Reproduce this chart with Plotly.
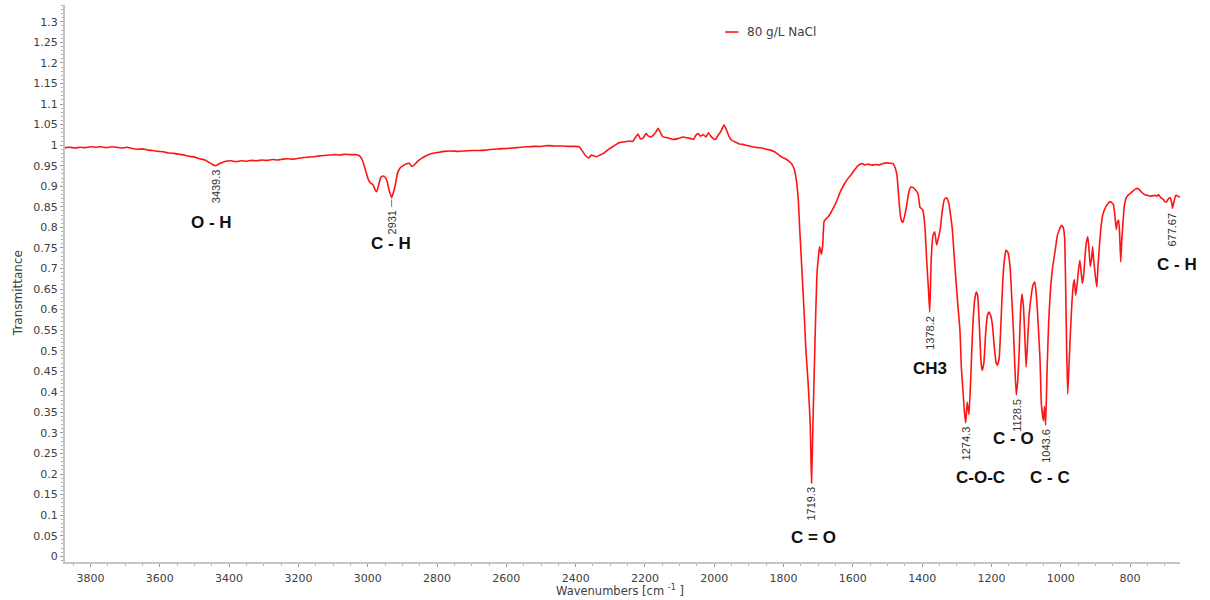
import plotly.graph_objects as go

# FTIR spectrum, 80 g/L NaCl sample
wavenumber = [
    3874, 3860, 3845, 3830, 3815, 3800, 3785, 3770, 3755, 3740, 3725, 3710, 3695, 3680,
    3665, 3650, 3635, 3620, 3605, 3590, 3575, 3560, 3545, 3530, 3515, 3500, 3485, 3470,
    3458, 3448, 3439.3, 3430, 3420, 3410, 3395, 3380, 3365, 3350, 3335, 3320, 3305, 3290,
    3275, 3260, 3245, 3230, 3215, 3200, 3185, 3170, 3155, 3140, 3125, 3110, 3095, 3080,
    3065, 3050, 3035, 3025, 3018, 3012, 3005, 2999, 2992, 2985, 2978, 2974, 2968, 2962,
    2956, 2950, 2944, 2938, 2931, 2926, 2920, 2914, 2906, 2897, 2888, 2880, 2873, 2866,
    2857, 2845, 2830, 2815, 2800, 2780, 2760, 2740, 2720, 2700, 2680, 2660, 2640, 2620,
    2600, 2580, 2560, 2540, 2520, 2500, 2480, 2460, 2440, 2420, 2400, 2390, 2382, 2372,
    2362, 2355, 2348, 2340, 2330, 2320, 2305, 2290, 2275, 2260, 2245, 2235, 2228, 2220,
    2213, 2205, 2197, 2190, 2182, 2170, 2162, 2155, 2148, 2135, 2120, 2105, 2090, 2080,
    2068, 2060, 2052, 2046, 2040, 2032, 2024, 2017, 2010, 2003, 1997, 1988, 1980, 1972,
    1965, 1958, 1950, 1940, 1928, 1918, 1905, 1890, 1876, 1862, 1850, 1838, 1826, 1815,
    1805, 1795, 1786, 1777, 1770, 1764, 1758, 1753, 1747, 1740, 1735, 1729, 1723, 1719.3,
    1715, 1710, 1704, 1698, 1696, 1691, 1687, 1683, 1676, 1671, 1664, 1657, 1650, 1645,
    1637, 1625, 1615, 1605, 1595, 1585, 1575, 1565, 1555, 1545, 1535, 1525, 1515, 1502,
    1492, 1484, 1478, 1473, 1469, 1466, 1461, 1456, 1450, 1444, 1438, 1432, 1425, 1418,
    1412, 1406, 1402, 1398, 1392, 1387, 1382, 1378.2, 1374, 1369, 1364, 1358, 1353, 1348,
    1342, 1336, 1330, 1324, 1318, 1313, 1308, 1302, 1296, 1291, 1287, 1282, 1278, 1274.3,
    1270, 1265, 1260, 1255, 1249, 1244, 1240, 1235, 1230, 1227, 1222, 1217, 1212, 1207,
    1202, 1197, 1192, 1187, 1183, 1178, 1173, 1168, 1163, 1158, 1152, 1146, 1141, 1137,
    1133, 1128.5, 1124, 1120, 1116, 1112, 1108, 1104, 1100, 1096, 1092, 1086, 1080, 1075,
    1070, 1065, 1060, 1056, 1050, 1047, 1043.6, 1040, 1035, 1030, 1024, 1016, 1010, 1004,
    998, 993, 989, 986, 983, 980, 977, 973, 968, 964, 961, 957, 953, 949,
    945, 941, 938, 934, 930, 926, 922, 918, 915, 911, 908, 905, 900, 896,
    893, 889, 884, 879, 873, 867, 862, 858, 853, 848, 844, 840, 837, 833,
    830, 827, 824, 821, 817, 812, 806, 800, 792, 785, 779, 773, 767, 762,
    756, 750, 742, 735, 728, 722, 718, 713, 708, 704, 699, 694, 689, 684,
    680, 677.67, 674, 670, 667, 662, 656,
]
transmittance = [
    0.994, 0.995, 0.993, 0.995, 0.994, 0.996, 0.995, 0.996, 0.994, 0.996, 0.995, 0.993, 0.995, 0.992,
    0.990, 0.991, 0.988, 0.987, 0.985, 0.984, 0.981, 0.980, 0.978, 0.976, 0.973, 0.971, 0.967, 0.964,
    0.958, 0.953, 0.950, 0.954, 0.958, 0.961, 0.962, 0.960, 0.962, 0.961, 0.963, 0.962, 0.964, 0.963,
    0.965, 0.964, 0.966, 0.967, 0.966, 0.968, 0.970, 0.971, 0.972, 0.974, 0.975, 0.976, 0.977, 0.976,
    0.978, 0.977, 0.977, 0.975, 0.968, 0.955, 0.935, 0.918, 0.908, 0.904, 0.890, 0.887, 0.905, 0.922,
    0.925, 0.922, 0.912, 0.890, 0.872, 0.885, 0.905, 0.932, 0.945, 0.951, 0.955, 0.956, 0.948, 0.952,
    0.960, 0.968, 0.975, 0.980, 0.982, 0.985, 0.986, 0.985, 0.986, 0.987, 0.987, 0.988, 0.990, 0.991,
    0.992, 0.993, 0.995, 0.996, 0.997, 0.997, 0.999, 0.998, 0.998, 0.997, 0.997, 0.996, 0.988, 0.975,
    0.969, 0.976, 0.974, 0.972, 0.976, 0.980, 0.990, 0.998, 1.006, 1.008, 1.010, 1.009, 1.018, 1.027,
    1.015, 1.018, 1.028, 1.022, 1.020, 1.030, 1.041, 1.030, 1.020, 1.018, 1.014, 1.016, 1.020, 1.018,
    1.016, 1.014, 1.025, 1.028, 1.022, 1.026, 1.020, 1.030, 1.022, 1.016, 1.014, 1.025, 1.035, 1.049,
    1.038, 1.022, 1.012, 1.008, 1.003, 1.002, 0.999, 0.996, 0.994, 0.993, 0.990, 0.988, 0.984, 0.977,
    0.971, 0.967, 0.962, 0.955, 0.944, 0.920, 0.874, 0.790, 0.696, 0.580, 0.494, 0.420, 0.320, 0.178,
    0.330, 0.500, 0.680, 0.740, 0.753, 0.735, 0.757, 0.815, 0.822, 0.826, 0.835, 0.846, 0.858, 0.868,
    0.885, 0.905, 0.918, 0.928, 0.940, 0.950, 0.955, 0.952, 0.954, 0.951, 0.953, 0.952, 0.955, 0.957,
    0.956, 0.955, 0.945, 0.928, 0.890, 0.855, 0.820, 0.812, 0.830, 0.858, 0.888, 0.898, 0.896, 0.890,
    0.882, 0.848, 0.846, 0.842, 0.800, 0.720, 0.650, 0.594, 0.720, 0.780, 0.789, 0.757, 0.775, 0.795,
    0.840, 0.868, 0.872, 0.862, 0.830, 0.795, 0.735, 0.665, 0.600, 0.550, 0.460, 0.400, 0.350, 0.325,
    0.375, 0.345, 0.430, 0.540, 0.620, 0.643, 0.635, 0.560, 0.470, 0.452, 0.470, 0.540, 0.585, 0.594,
    0.585, 0.560, 0.510, 0.472, 0.465, 0.480, 0.560, 0.660, 0.720, 0.745, 0.738, 0.700, 0.620, 0.555,
    0.470, 0.392, 0.430, 0.500, 0.600, 0.638, 0.610, 0.540, 0.460, 0.520, 0.580, 0.630, 0.660, 0.667,
    0.630, 0.560, 0.480, 0.370, 0.330, 0.365, 0.319, 0.440, 0.570, 0.645, 0.700, 0.745, 0.780, 0.795,
    0.805, 0.800, 0.775, 0.660, 0.500, 0.395, 0.450, 0.530, 0.615, 0.660, 0.673, 0.635, 0.660, 0.696,
    0.720, 0.690, 0.664, 0.684, 0.730, 0.765, 0.777, 0.740, 0.705, 0.725, 0.753, 0.720, 0.680, 0.655,
    0.700, 0.750, 0.800, 0.830, 0.845, 0.854, 0.860, 0.862, 0.860, 0.855, 0.830, 0.795, 0.812, 0.818,
    0.780, 0.716, 0.770, 0.805, 0.850, 0.870, 0.878, 0.882, 0.888, 0.893, 0.895, 0.892, 0.886, 0.882,
    0.879, 0.878, 0.876, 0.877, 0.878, 0.876, 0.880, 0.874, 0.870, 0.868, 0.862, 0.863, 0.870, 0.872,
    0.860, 0.847, 0.860, 0.874, 0.878, 0.876, 0.873,
]

# Labelled absorption bands
peak_wn = [3439.3, 2931, 1719.3, 1378.2, 1274.3, 1128.5, 1043.6, 677.67]
peak_val = [0.950, 0.872, 0.178, 0.594, 0.325, 0.392, 0.319, 0.847]
peak_text = ["3439.3", "2931", "1719.3", "1378.2", "1274.3", "1128.5", "1043.6", "677.67"]
peak_gap = [0, 0.022, 0, 0, 0, 0, 0, 0]

# Functional-group assignments and where each name sits
group_text = ["O - H", "C - H", "C = O", "CH3", "C-O-C", "C - O", "C - C", "C - H"]
group_wn = [3451, 2932, 1715, 1377, 1233, 1137, 1031, 664]
group_val = [0.813, 0.762, 0.046, 0.457, 0.192, 0.287, 0.192, 0.710]

series_name = "80 g/L NaCl"
line_color = "rgb(255,20,20)"
axis_grey = "#c4c4c4"
text_grey = "#404040"

fig = go.Figure()
fig.add_trace(go.Scatter(
    x=wavenumber, y=transmittance, mode="lines", name=series_name,
    line=dict(color=line_color, width=1.6, shape="spline", smoothing=0.4),
    showlegend=False,
))

annotations = []
shapes = []
for wn, val, txt, gap in zip(peak_wn, peak_val, peak_text, peak_gap):
    if gap > 0:
        shapes.append(dict(type="line", xref="x", yref="y", x0=wn, x1=wn,
                           y0=val - 0.004, y1=val - gap,
                           line=dict(color="#777777", width=1)))
    annotations.append(dict(
        x=wn, y=val - gap, xref="x", yref="y", text=txt, showarrow=False,
        textangle=-90, xanchor="center", yanchor="top", yshift=-2,
        font=dict(family="Liberation Sans, Arial, sans-serif", size=11, color="#333333"),
    ))
for txt, wn, val in zip(group_text, group_wn, group_val):
    annotations.append(dict(
        x=wn, y=val, xref="x", yref="y", text="<b>" + txt + "</b>", showarrow=False,
        xanchor="center", yanchor="middle",
        font=dict(family="Liberation Sans, Arial, sans-serif", size=17, color="#111111"),
    ))

# Axis titles
annotations.append(dict(
    x=0.4978, y=-0.052, xref="paper", yref="paper", showarrow=False,
    text="Wavenumbers [cm <sup>-1</sup> ]", xanchor="center", yanchor="middle",
    font=dict(family="DejaVu Sans, Verdana, sans-serif", size=11.5, color=text_grey),
))
annotations.append(dict(
    x=-0.042, y=0.483, xref="paper", yref="paper", showarrow=False,
    text="Transmittance", textangle=-90, xanchor="center", yanchor="middle",
    font=dict(family="DejaVu Sans, Verdana, sans-serif", size=12, color=text_grey),
))

# Legend entry
shapes.append(dict(type="line", xref="paper", yref="paper", x0=0.592, x1=0.604,
                   y0=0.9515, y1=0.9515, line=dict(color=line_color, width=1.6)))
annotations.append(dict(
    x=0.6099, y=0.9515, xref="paper", yref="paper", showarrow=False,
    text=series_name, xanchor="left", yanchor="middle",
    font=dict(family="DejaVu Sans, Verdana, sans-serif", size=12, color=text_grey),
))

fig.update_layout(
    width=1210, height=600,
    margin=dict(l=65, r=30, t=5, b=38),
    paper_bgcolor="white", plot_bgcolor="white",
    font=dict(family="DejaVu Sans, Verdana, sans-serif", size=11, color=text_grey),
    annotations=annotations, shapes=shapes,
    xaxis=dict(
        range=[3873.6, 656], autorange=False,
        tick0=0, dtick=200, ticks="outside", ticklen=3, tickcolor="#9a9a9a",
        showline=True, linecolor=axis_grey, linewidth=2, showgrid=False, zeroline=False,
        ticklabelstandoff=2,
        minor=dict(dtick=50, ticks="outside", ticklen=2, tickcolor="#b0b0b0", showgrid=False),
    ),
    yaxis=dict(
        range=[-0.014, 1.341], autorange=False,
        tick0=0, dtick=0.05, ticks="outside", ticklen=3, tickcolor="#9a9a9a",
        showline=True, linecolor=axis_grey, linewidth=2, showgrid=False, zeroline=False,
        minor=dict(dtick=0.01, ticks="outside", ticklen=2, tickcolor="#b0b0b0", showgrid=False),
    ),
)

fig.write_html("out.html")
